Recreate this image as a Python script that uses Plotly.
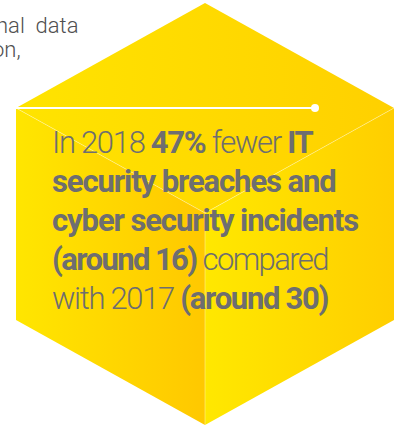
import plotly.graph_objects as go

# ---- data ----
years = [2017, 2018]
incidents = [30, 16]          # around 30 in 2017, around 16 in 2018
pct_fewer = 47
intro_lines = ["nal  data", "on,"]

# ---- geometry (pixel space) ----
W, H = 397, 425
top = (205, 3)
ul = (16, 108)
ur = (394, 108)
ctr = (205, 213)
ll = (16, 320)
lr = (394, 320)
bot = (205, 425)

fig = go.Figure()

def face(pts, c0, c1):
    xs = [p[0] for p in pts] + [pts[0][0]]
    ys = [p[1] for p in pts] + [pts[0][1]]
    fig.add_trace(go.Scatter(
        x=xs, y=ys, mode="lines", fill="toself",
        line=dict(width=0, color="rgba(0,0,0,0)"),
        fillgradient=dict(type="horizontal", colorscale=[[0, c0], [1, c1]]),
        hoverinfo="skip", showlegend=False))

face([ul, top, ur, ctr], "#FFE400", "#FFD000")
face([ul, ctr, bot, ll], "#FFE600", "#FFC800")
face([ctr, ur, lr, bot], "#FFE800", "#FFCE00")

# faint cube edges
for a, b in [(ul, ctr), (ur, ctr), (ctr, bot)]:
    fig.add_trace(go.Scatter(x=[a[0], b[0]], y=[a[1], b[1]], mode="lines",
                             line=dict(color="rgba(255,255,255,0.35)", width=1),
                             hoverinfo="skip", showlegend=False))

# white connector line with dot
fig.add_trace(go.Scatter(x=[16, 315], y=[108, 108], mode="lines",
                         line=dict(color="white", width=2),
                         hoverinfo="skip", showlegend=False))
fig.add_trace(go.Scatter(x=[315], y=[108], mode="markers",
                         marker=dict(color="white", size=8),
                         hoverinfo="skip", showlegend=False))

grey = "#6E6E70"
font = "Roboto, Liberation Sans, Arial, sans-serif"
lines = [
    f"In {years[1]} <b>{pct_fewer}%</b> fewer <b>IT</b>",
    "<b>security breaches and</b>",
    "<b>cyber security incidents</b>",
    f"<b>(around {incidents[1]})</b> compared",
    f"with {years[0]} <b>(around {incidents[0]})</b>",
]
spacing = [-1.3, -1.1, -1.1, -1.6, -1.3]
baseline0 = 156
step = 39
for i, t in enumerate(lines):
    fig.add_annotation(x=50, y=baseline0 + i * step + 7, xref="x", yref="y",
                       text=f'<span style="letter-spacing:{spacing[i]}px">{t}</span>',
                       showarrow=False, xanchor="left", yanchor="bottom",
                       font=dict(family=font, size=31, color=grey, weight=300))

# partial intro paragraph at top-left (cut off)
fig.add_annotation(x=80, y=40, xref="x", yref="y", text=intro_lines[0],
                   showarrow=False, xanchor="right", yanchor="bottom",
                   font=dict(family="Roboto, Liberation Sans, Arial", size=22,
                             color="#505050", weight=300))
fig.add_annotation(x=23, y=64, xref="x", yref="y", text=intro_lines[1],
                   showarrow=False, xanchor="right", yanchor="bottom",
                   font=dict(family="Roboto, Liberation Sans, Arial", size=22,
                             color="#505050", weight=300))

fig.update_layout(
    width=W, height=H, margin=dict(l=0, r=0, t=0, b=0),
    paper_bgcolor="white", plot_bgcolor="white",
    xaxis=dict(range=[0, W], visible=False, fixedrange=True),
    yaxis=dict(range=[H, 0], visible=False, fixedrange=True),
    showlegend=False,
)
fig.write_html("out.html", config={"displayModeBar": False},
               post_script="document.body.style.margin='0';document.body.style.overflow='hidden';")
